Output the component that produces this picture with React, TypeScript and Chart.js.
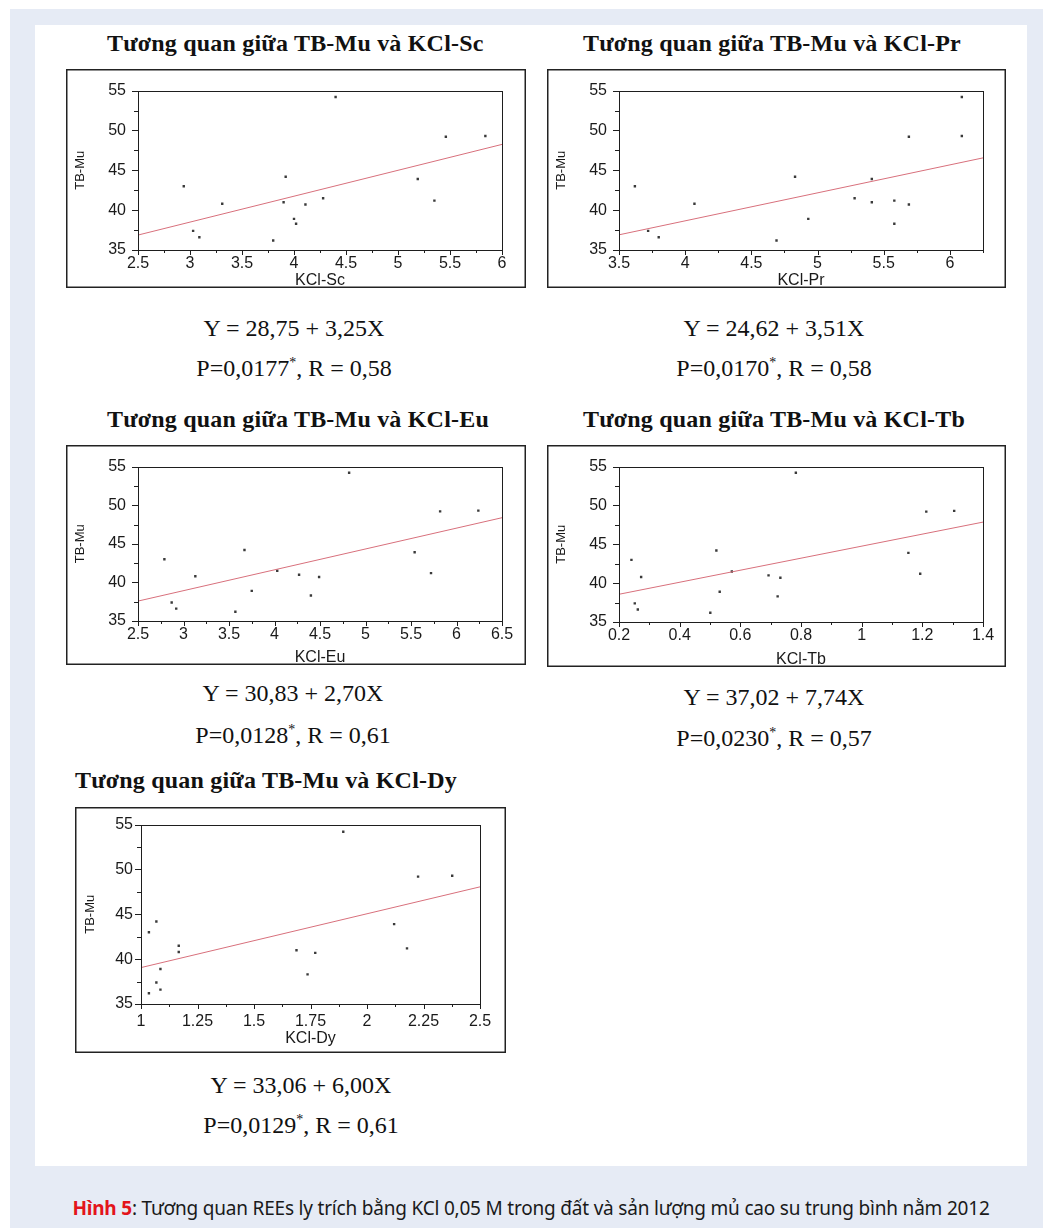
import React, { useEffect, useRef } from 'react';
import { Chart, registerables } from 'chart.js';

Chart.register(...registerables);

// ---------- DATA ----------
const tbMu = [43.0, 37.4, 36.6, 40.8, 36.2, 41.0, 44.2, 38.9, 38.3, 40.7, 41.5, 54.2, 43.9, 41.2, 49.2, 49.3];
const kclSc = [2.94, 3.03, 3.09, 3.31, 3.8, 3.9, 3.92, 4.0, 4.02, 4.11, 4.28, 4.4, 5.19, 5.35, 5.46, 5.84];
const kclPr = [3.62, 3.72, 3.8, 4.07, 4.69, 5.41, 4.83, 4.93, 5.58, 5.69, 5.28, 6.09, 5.41, 5.58, 5.69, 6.09];
const kclEu = [2.79, 2.87, 2.92, 3.13, 3.57, 4.27, 3.67, 3.75, 4.4, 4.49, 4.03, 4.82, 5.54, 5.72, 5.82, 6.24];
const kclTb = [0.241, 0.252, 0.262, 0.273, 0.501, 0.693, 0.521, 0.532, 0.723, 0.732, 0.572, 0.783, 1.154, 1.193, 1.213, 1.305];
const kclDy = [1.035, 1.068, 1.086, 1.167, 1.035, 1.688, 1.068, 1.086, 1.737, 1.771, 1.167, 1.895, 2.12, 2.177, 2.226, 2.377];

const xSeries = [kclSc, kclPr, kclEu, kclTb, kclDy];
const xTitles = ['KCl-Sc', 'KCl-Pr', 'KCl-Eu', 'KCl-Tb', 'KCl-Dy'];
const chartTitles = [
  'Tương quan giữa TB-Mu và KCl-Sc',
  'Tương quan giữa TB-Mu và KCl-Pr',
  'Tương quan giữa TB-Mu và KCl-Eu',
  'Tương quan giữa TB-Mu và KCl-Tb',
  'Tương quan giữa TB-Mu và KCl-Dy',
];
const intercepts = [28.75, 24.62, 30.83, 37.02, 33.06];
const slopes = [3.25, 3.51, 2.7, 7.74, 6.0];
const equationTexts = ['Y = 28,75 + 3,25X', 'Y = 24,62 + 3,51X', 'Y = 30,83 + 2,70X', 'Y = 37,02 + 7,74X', 'Y = 33,06 + 6,00X'];
const pValues = ['0,0177', '0,0170', '0,0128', '0,0230', '0,0129'];
const rValues = ['0,58', '0,58', '0,61', '0,57', '0,61'];
const xMins = [2.5, 3.5, 2.5, 0.2, 1];
const xMaxs = [6, 6.25, 6.5, 1.4, 2.5];
const xLabelSteps = [0.5, 0.5, 0.5, 0.2, 0.25];
const yMin = 35;
const yMax = 55;
const yLabelStep = 5;
const yTitle = 'TB-Mu';

// ---------- LAYOUT (positions only) ----------
type Box = { frame: number[]; plot: number[]; titleLeft: number; titleY: number; eqCX: number; eqY: number[]; yPad: number; xPad: number; xTitlePad: number; yTitlePad: number };
const LAYOUT: Box[] = [
  { frame: [66, 69, 460, 219], plot: [138, 79, 502, 250], titleLeft: 107, titleY: 43, eqCX: 294, eqY: [327.5, 367.5], yPad: 12, xPad: 4, xTitlePad: -1, yTitlePad: 8 },
  { frame: [547, 69, 459, 219], plot: [619, 79, 983, 250], titleLeft: 583, titleY: 43, eqCX: 774, eqY: [327.5, 367.5], yPad: 12, xPad: 4, xTitlePad: -1, yTitlePad: 8 },
  { frame: [66, 445, 460, 220], plot: [138, 454, 502, 621], titleLeft: 107, titleY: 419, eqCX: 293, eqY: [693, 735], yPad: 12, xPad: 4, xTitlePad: -1, yTitlePad: 8 },
  { frame: [547, 445, 459, 222], plot: [619, 454, 983, 622], titleLeft: 583, titleY: 419, eqCX: 774, eqY: [697, 738], yPad: 12, xPad: 4, xTitlePad: -1, yTitlePad: 8 },
  { frame: [75, 807, 431, 246], plot: [141, 816, 480, 1004], titleLeft: 75, titleY: 780, eqCX: 301, eqY: [1085, 1125], yPad: 8, xPad: 8, xTitlePad: 6, yTitlePad: 9 },
];

const SANS = '"Liberation Sans", Arial, sans-serif';
const SERIF = '"Liberation Serif", "Times New Roman", serif';

const isMultiple = (v: number, step: number) => Math.abs(v / step - Math.round(v / step)) < 1e-6;
const fmt = (v: number) => String(parseFloat(v.toFixed(4)));

const framePlugin = {
  id: 'frameTicks',
  afterDraw(chart: any, _args: any, opts: any) {
    const { ctx, chartArea: a, scales } = chart;
    ctx.save();
    ctx.strokeStyle = '#1e1e1e';
    ctx.lineWidth = 1;
    // plot box
    ctx.strokeRect(Math.round(a.left) + 0.5, Math.round(a.top) + 0.5, Math.round(a.right - a.left), Math.round(a.bottom - a.top));
    // x ticks
    const xs = scales.x;
    xs.ticks.forEach((t: any) => {
      const px = Math.round(xs.getPixelForValue(t.value)) + 0.5;
      const len = isMultiple(t.value, opts.xStep) ? 5 : 3;
      ctx.beginPath();
      ctx.moveTo(px, Math.round(a.bottom));
      ctx.lineTo(px, Math.round(a.bottom) + len);
      ctx.stroke();
    });
    const ys = scales.y;
    ys.ticks.forEach((t: any) => {
      const py = Math.round(ys.getPixelForValue(t.value)) + 0.5;
      const len = isMultiple(t.value, opts.yStep) ? 6 : 4;
      ctx.beginPath();
      ctx.moveTo(Math.round(a.left), py);
      ctx.lineTo(Math.round(a.left) - len, py);
      ctx.stroke();
    });
    // outer frame
    ctx.lineWidth = 1.5;
    ctx.strokeStyle = '#222';
    ctx.strokeRect(0.75, 0.75, chart.width - 1.5, chart.height - 1.5);
    ctx.restore();
  },
};

function ScatterPanel({ idx }: { idx: number }) {
  const ref = useRef<HTMLCanvasElement | null>(null);
  const L = LAYOUT[idx];
  const [fx, fy, fw, fh] = L.frame;
  const [pl, pt, pr, pb] = L.plot;
  useEffect(() => {
    if (!ref.current) return;
    const xs = xSeries[idx];
    const a = intercepts[idx];
    const b = slopes[idx];
    const xMin = xMins[idx];
    const xMax = xMaxs[idx];
    const xStep = xLabelSteps[idx];
    const chart = new Chart(ref.current, {
      type: 'scatter',
      data: {
        datasets: [
          {
            type: 'line',
            data: [
              { x: xMin, y: a + b * xMin },
              { x: xMax, y: a + b * xMax },
            ],
            borderColor: '#d8707c',
            borderWidth: 1,
            pointRadius: 0,
            fill: false,
          } as any,
          {
            data: xs.map((x, i) => ({ x, y: tbMu[i] })),
            pointStyle: 'rect',
            pointRadius: 1.7,
            backgroundColor: '#3a3a3a',
            borderWidth: 0,
          },
        ],
      },
      options: {
        animation: false,
        responsive: false,
        devicePixelRatio: 1,
        events: [],
        layout: { padding: { left: 0, top: pt - fy, right: fx + fw - pr, bottom: 0 } },
        plugins: {
          legend: { display: false },
          tooltip: { enabled: false },
          frameTicks: { xStep, yStep: yLabelStep },
        } as any,
        scales: {
          x: {
            type: 'linear',
            min: xMin,
            max: xMax,
            border: { display: false },
            grid: { display: false, drawTicks: false },
            afterFit: (s: any) => { s.height = fy + fh - pb; },
            ticks: {
              stepSize: xStep / 2,
              autoSkip: false,
              maxRotation: 0,
              padding: L.xPad,
              color: '#1a1a1a',
              font: { family: SANS, size: 16 },
              callback: (v: any) => (isMultiple(Number(v), xStep) ? fmt(Number(v)) : ''),
            },
            title: {
              display: true,
              text: xTitles[idx],
              color: '#1a1a1a',
              font: { family: SANS, size: 16, lineHeight: 1 },
              padding: { top: 0, bottom: L.xTitlePad },
            },
          },
          y: {
            type: 'linear',
            min: yMin,
            max: yMax,
            border: { display: false },
            grid: { display: false, drawTicks: false },
            afterFit: (s: any) => { s.width = pl - fx; },
            ticks: {
              stepSize: yLabelStep / 2,
              autoSkip: false,
              padding: L.yPad,
              color: '#1a1a1a',
              font: { family: SANS, size: 16 },
              callback: (v: any) => (isMultiple(Number(v), yLabelStep) ? fmt(Number(v)) : ''),
            },
            title: {
              display: true,
              text: yTitle,
              color: '#1a1a1a',
              font: { family: SANS, size: 13, lineHeight: 1.2 },
              padding: { top: L.yTitlePad - 1, bottom: 0 },
            },
          },
        },
      },
      plugins: [framePlugin],
    });
    return () => chart.destroy();
  }, [idx]);
  const eqStyle: React.CSSProperties = {
    position: 'absolute',
    left: L.eqCX - 150,
    width: 300,
    textAlign: 'center',
    fontFamily: SERIF,
    fontSize: 24,
    lineHeight: '28px',
    whiteSpace: 'nowrap',
    color: '#111',
  };
  return (
    <>
      <div
        style={{
          position: 'absolute',
          left: L.titleLeft,
          top: L.titleY - 14,
          fontFamily: SERIF,
          fontWeight: 'bold',
          fontSize: 24,
          letterSpacing: '0.2px',
          lineHeight: '28px',
          whiteSpace: 'nowrap',
          color: '#111',
        }}
      >
        {chartTitles[idx]}
      </div>
      <canvas
        ref={ref}
        width={fw}
        height={fh}
        style={{ position: 'absolute', left: fx, top: fy, width: fw, height: fh }}
      />
      <div style={{ ...eqStyle, top: L.eqY[0] - 14 }}>{equationTexts[idx]}</div>
      <div style={{ ...eqStyle, top: L.eqY[1] - 14 }}>
        P={pValues[idx]}
        <sup style={{ fontSize: 14, lineHeight: 0, verticalAlign: 'super' }}>*</sup>, R = {rValues[idx]}
      </div>
    </>
  );
}

export default function App() {
  return (
    <div style={{ position: 'absolute', left: 0, top: 0, width: 1043, height: 1228, background: '#ffffff', overflow: 'hidden' }}>
      <div style={{ position: 'absolute', left: 10, top: 9, width: 1033, height: 1219, background: '#e6ebf5' }} />
      <div style={{ position: 'absolute', left: 35, top: 25, width: 992, height: 1141, background: '#ffffff' }} />
      {LAYOUT.map((_, i) => (
        <ScatterPanel key={i} idx={i} />
      ))}
      <div
        style={{
          position: 'absolute',
          left: 0,
          width: 1062,
          top: 1195,
          textAlign: 'center',
          fontFamily: '"Noto Sans", "Open Sans", sans-serif',
          fontSize: 19,
          lineHeight: '26px',
          letterSpacing: '-0.2px',
          whiteSpace: 'nowrap',
          color: '#1a1a1a',
        }}
      >
        <span style={{ color: '#e3141b', fontWeight: 'bold' }}>Hình 5</span>: Tương quan REEs ly trích bằng KCl 0,05 M trong đất và sản lượng mủ cao su trung bình nằm 2012
      </div>
    </div>
  );
}
